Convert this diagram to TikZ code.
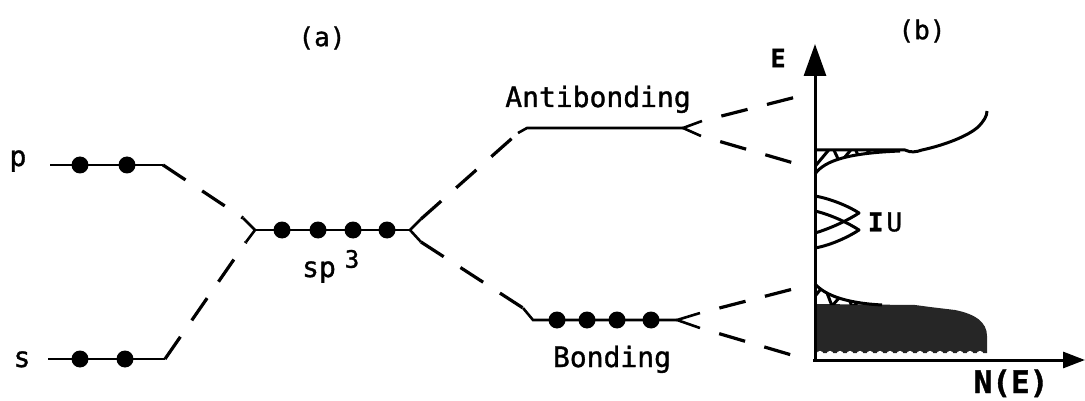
\documentclass[tikz,border=0pt]{standalone}
\usepackage{fontspec}
\usetikzlibrary{arrows.meta}
\newfontfamily\plotfont[FakeBold=1.2]{DejaVu Sans Mono}
\begin{document}
\begin{tikzpicture}[x=1pt,y=-1pt,
  lvl/.style={line width=2.6pt},
  dsh/.style={line width=3.2pt, dash pattern=on 27pt off 20pt},
  dosdash/.style={line width=3.2pt, dash pattern=on 27pt off 20pt, dash phase=27pt},
  dot/.style={circle, fill=black, inner sep=0pt, minimum size=17pt},
  lab/.style={font=\plotfont\fontsize{28}{30}\selectfont, inner sep=0pt},
  dos/.style={line width=3pt, line join=round},
  hatch/.style={line width=3pt},
  axis/.style={line width=3pt}]
\useasboundingbox (0,0) rectangle (1085,401);

% ---- labels
\node[lab, font=\plotfont\fontsize{26}{28}\selectfont] (la) at (322,38) {(a)};
\node[lab, font=\plotfont\fontsize{26}{28}\selectfont] (lb) at (922,31) {(b)};
\node[lab, anchor=base] (plab) at (18,166) {p};
\node[lab, anchor=base] (slab) at (22,367) {s};
\node[lab, anchor=base] (splab) at (319,277) {sp};
\node[lab, font=\plotfont\fontsize{24}{26}\selectfont] (sp3lab) at (352,259) {3};
\node[lab, anchor=base] (ablab) at (598,107) {Antibonding};
\node[lab, anchor=base] (bolab) at (612,367) {Bonding};
\node[lab, font=\plotfont\bfseries\fontsize{25}{27}\selectfont] (Elab) at (778,58) {E};
\node[lab, font=\plotfont\bfseries\fontsize{31}{33}\selectfont, anchor=base] (NElab) at (1011,393) {N(E)};
\node[lab, font=\plotfont\fontsize{26}{28}\selectfont] (Ulab) at (885,222) {\textbf{I}\hspace{3pt}U};

% ---- p level
\coordinate (p0) at (50,165); \coordinate (p1) at (163,165);
\draw[lvl] (p0) -- (p1);
\node[dot] (pd1) at (80,165) {}; \node[dot] (pd2) at (127,165) {};

% ---- s level
\coordinate (s0) at (48,359); \coordinate (s1) at (165,359);
\draw[lvl] (s0) -- (s1);
\node[dot] (sd1) at (80,359) {}; \node[dot] (sd2) at (125,359) {};

% ---- sp3 level
\coordinate (spL) at (255,230); \coordinate (spLa) at (243,218); \coordinate (spLb) at (246,242);
\coordinate (spR) at (410,230); \coordinate (spRa) at (421,219); \coordinate (spRb) at (421,242);
\draw[lvl] (spLa) -- (spL) -- (spLb);
\draw[lvl] (spL) -- (spR);
\draw[lvl] (spRa) -- (spR) -- (spRb);
\foreach \x [count=\i] in {282,318,353,387} \node[dot] (spd\i) at (\x,230) {};

% ---- antibonding level
\coordinate (ab0) at (518,133); \coordinate (ab1) at (527,128); \coordinate (abR) at (683,128);
\coordinate (abRa) at (702,121); \coordinate (abRb) at (701,136);
\draw[lvl] (ab0) -- (ab1) -- (abR);
\draw[lvl] (abRa) -- (abR) -- (abRb);

% ---- bonding level
\coordinate (bo0) at (523,308); \coordinate (bo1) at (533,320); \coordinate (boR) at (677,320);
\coordinate (boRa) at (700,313); \coordinate (boRb) at (700,328);
\draw[lvl] (bo0) -- (bo1) -- (boR);
\draw[lvl] (boRa) -- (boR) -- (boRb);
\foreach \x [count=\i] in {557,587,617,651} \node[dot] (bod\i) at (\x,320) {};

% ---- dashed correlation lines (a)
\draw[dsh] (p1) -- (spLa);
\draw[dsh] (s1) -- (spLb);
\draw[dsh] (spRa) -- (ab0);
\draw[dsh] (spRb) -- (bo0);

% ---- dashed lines to DOS
\coordinate (abUp) at (800,96);  \coordinate (abDn) at (797,164);
\coordinate (boUp) at (797,288); \coordinate (boDn) at (795,356);
\draw[dosdash] (abRa) -- (abUp);
\draw[dosdash] (abRb) -- (abDn);
\draw[dosdash] (boRa) -- (boUp);
\draw[dosdash] (boRb) -- (boDn);

% ---- DOS (b)
\coordinate (O) at (815,360); \coordinate (Etop) at (815,44); \coordinate (Nend) at (1085,360);

% bonding band filled
\fill[black!85] (815,304) -- (915,305) -- (930,307) -- (955,310)
  .. controls (975,314) and (987,322) .. (987,336) -- (987,353) -- (815,353) -- cycle;
\foreach \x in {820,830,...,985} \fill[white] (\x,354.5) circle (3.6pt);

% bonding tail, hatched
\begin{scope}
  \clip (815,284) .. controls (825,295) and (845,303) .. (882,305) -- (815,305) -- cycle;
  \draw[hatch] (812,300) -- (824,285) -- (832,306) -- (846,290) -- (852,307) -- (866,296) -- (872,308);
\end{scope}
\draw[dos] (815,284) .. controls (825,295) and (845,303) .. (882,305);

% antibonding band hatched
\begin{scope}
  \clip (815,150) -- (900,151) .. controls (850,153) and (825,160) .. (815,174) -- cycle;
  \draw[hatch] (812,170) -- (832,146) -- (840,163) -- (854,146) -- (860,160) -- (874,146) -- (880,156) -- (892,146);
\end{scope}
\draw[dos] (815,174) .. controls (825,160) and (850,153) .. (900,151);
\draw[dos] (815,150) -- (905,150) .. controls (911,153) and (916,152) .. (922,150)
  .. controls (945,145) and (968,136) .. (978,127) .. controls (984,121) and (987,116) .. (987,111);

% impurity peaks
\draw[dos] (815,196) .. controls (832,199) and (850,207) .. (859,213) .. controls (850,219) and (832,228) .. (815,233);
\draw[dos] (815,211) .. controls (832,215) and (850,224) .. (859,230) .. controls (850,236) and (832,245) .. (815,248);

% axes
\draw[axis, -{Triangle[length=32pt,width=22pt]}] (O) -- (Etop);
\draw[axis, -{Triangle[length=22pt,width=16pt]}] (813,360) -- (Nend);
\end{tikzpicture}
\end{document}
